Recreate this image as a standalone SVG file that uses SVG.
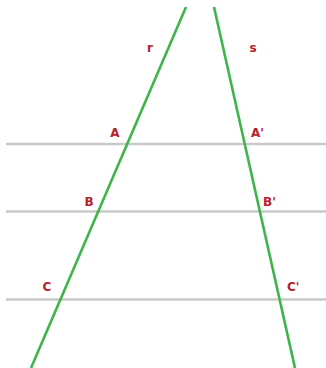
<svg xmlns="http://www.w3.org/2000/svg" width="326" height="368" viewBox="0 0 326 368">
<style>
.par{stroke:#c9c9c9;stroke-width:2.5;fill:none}
.ln{stroke:#3db54a;stroke-width:2.6;fill:none}
.lb{font-family:"DejaVu Sans","Liberation Sans",sans-serif;font-weight:bold;font-size:12px;fill:#b8202a}
</style>
<rect width="326" height="368" fill="#fff"/>
<g id="parallels">
<line id="p1" class="par" x1="6" y1="144" x2="326" y2="144"/>
<line id="p2" class="par" x1="6" y1="211.5" x2="326" y2="211.5"/>
<line id="p3" class="par" x1="6" y1="299.5" x2="326" y2="299.5"/>
</g>
<g id="connectors">
<line id="r" class="ln" x1="186" y1="7" x2="31" y2="368"/>
<line id="s" class="ln" x1="214" y1="7" x2="295" y2="368"/>
</g>
<g id="labels">
<text class="lb" x="150" y="52" text-anchor="middle">r</text>
<text class="lb" x="253" y="52" text-anchor="middle">s</text>
<text class="lb" x="115" y="137" text-anchor="middle">A</text>
<text class="lb" x="251" y="137">A'</text>
<text class="lb" x="89" y="206" text-anchor="middle">B</text>
<text class="lb" x="263" y="206">B'</text>
<text class="lb" x="47" y="291" text-anchor="middle">C</text>
<text class="lb" x="287" y="291">C'</text>
</g>
</svg>
